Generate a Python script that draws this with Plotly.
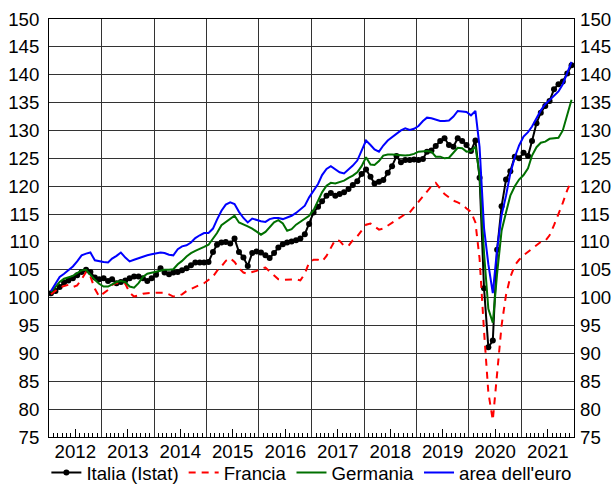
import plotly.graph_objects as go
import pandas as pd

# Monthly observations, Jan 2012 - Dec 2021 (plotted at mid-month)
months = pd.date_range("2012-01-01", periods=120, freq="MS") + pd.Timedelta(days=14)
years = list(range(2012, 2022))

italia = [
    100.8, 101.2, 101.9, 102.7, 103.1, 103.5, 104.0, 104.6, 105.0, 104.6, 103.6, 103.3,
    103.5, 103.0, 103.3, 102.6, 102.8, 103.1, 103.5, 103.8, 103.8, 103.5, 103.0, 103.5,
    104.1, 105.3, 104.5, 104.2, 104.5, 104.6, 104.9, 105.3, 105.8, 106.3, 106.3, 106.3,
    106.4, 108.2, 109.5, 109.9, 110.0, 109.7, 110.6, 108.2, 107.2, 105.7, 108.0, 108.3,
    108.1, 107.6, 107.1, 108.0, 109.0, 109.6, 109.9, 110.1, 110.3, 110.6, 111.4, 113.2,
    115.3, 116.3, 117.3, 118.3, 118.8, 118.3, 118.6, 118.9, 119.5, 120.2, 120.9, 122.2,
    123.0, 121.7, 120.5, 120.8, 121.1, 122.4, 123.6, 125.4, 124.3, 124.7, 124.7, 124.8,
    124.7, 124.9, 126.2, 126.4, 127.2, 128.1, 128.6, 127.4, 127.1, 128.6, 128.1, 127.4,
    126.3, 128.2, 121.5, 101.7, 91.1, 92.3, 108.6, 116.4, 121.2, 122.7, 125.3, 125.0,
    126.0, 125.4, 128.1, 131.3, 133.2, 134.4, 135.3, 137.4, 138.3, 138.8, 140.2, 141.7,
]

francia = [
    100.6, 101.2, 101.8, 102.1, 102.3, 101.9, 102.2, 103.3, 104.6, 103.8, 101.6, 100.2,
    100.8, 101.4, 102.3, 102.6, 102.6, 102.5, 100.9, 100.2, 100.4, 100.7, 100.8, 100.9,
    100.9, 100.9, 100.9, 100.6, 100.2, 100.3, 100.6, 101.2, 101.6, 102.0, 102.3, 102.6,
    103.2, 103.8, 104.8, 105.6, 106.6, 107.1, 106.4, 105.3, 104.5, 104.3, 104.6, 104.8,
    105.2, 105.4, 104.7, 103.9, 103.3, 103.2, 103.2, 103.3, 103.3, 103.1, 104.3, 106.3,
    106.8, 106.8, 106.5, 107.5, 109.0, 110.4, 110.2, 109.3, 109.3, 110.3, 111.0, 112.0,
    113.1, 113.3, 112.7, 112.2, 112.4, 112.9, 113.4, 114.0, 114.4, 115.0, 115.3, 116.2,
    117.2, 118.1, 119.0, 120.0, 120.6, 119.5, 118.6, 118.0, 117.4, 117.1, 116.7, 116.0,
    115.4, 113.5, 107.0, 94.0, 83.0, 78.0, 86.0, 95.0, 100.5, 103.7, 105.8, 106.8,
    107.6, 108.2, 108.8, 109.5, 110.0, 110.2, 111.2, 113.0, 115.0, 117.0, 119.3, 121.0,
]

germania = [
    101.0, 101.9, 102.8, 103.4, 103.6, 103.9, 104.4, 104.9, 105.0, 104.1, 103.2, 102.5,
    102.0, 102.0, 102.4, 102.8, 103.0, 102.8, 102.0, 101.8, 102.6, 103.7, 104.3, 104.5,
    104.7, 104.8, 105.0, 105.0, 105.1, 106.0, 106.6, 107.4, 108.0, 108.4, 108.7, 109.1,
    109.5, 110.5, 111.6, 113.0, 113.6, 114.2, 114.7, 113.5, 113.2, 112.8, 112.4, 111.9,
    111.3, 111.8, 112.6, 113.5, 113.9, 113.3, 112.0, 112.3, 113.1, 113.6, 114.2, 114.7,
    115.7, 117.3, 118.9, 120.1, 120.6, 120.5, 120.8, 121.0, 121.5, 121.9, 122.5, 123.6,
    125.2, 123.9, 123.8, 124.5, 125.5, 125.7, 125.7, 125.6, 125.5, 125.5, 125.6, 125.8,
    126.2, 126.3, 126.3, 126.2, 125.3, 125.3, 125.0, 125.1, 126.0, 126.9, 126.8, 126.2,
    126.3, 127.1, 122.0, 108.0, 98.0, 95.5, 104.3, 112.0, 115.3, 118.3, 120.0, 121.2,
    122.0, 123.2, 125.5, 127.0, 127.8, 128.0, 128.5, 128.6, 128.7, 130.0, 132.8, 135.5,
]

area_euro = [
    101.2, 102.6, 103.7, 104.3, 104.9, 105.6, 106.5, 107.6, 107.9, 108.1, 106.7, 106.5,
    106.4, 106.3, 107.0, 107.5, 108.1, 107.2, 106.5, 106.8, 107.1, 107.4, 107.6, 107.8,
    108.0, 108.1, 108.0, 107.7, 107.6, 108.7, 109.2, 109.4, 109.9, 110.7, 111.2, 111.6,
    111.6, 112.4, 114.0, 115.6, 116.7, 117.1, 116.8, 115.4, 114.3, 113.5, 114.2, 113.9,
    113.7, 113.6, 114.1, 114.3, 114.3, 114.1, 114.4, 114.7, 115.2, 115.8, 116.5, 118.0,
    119.3, 120.4, 122.0, 123.1, 123.6, 123.0, 122.5, 122.3, 123.0, 123.7, 124.6, 126.3,
    128.2, 127.4, 126.6, 126.2, 127.3, 128.2, 128.8, 129.5, 130.0, 130.4, 130.1, 130.3,
    130.8, 131.7, 132.3, 132.2, 132.0, 131.7, 131.7, 131.8, 132.5, 133.5, 133.4, 133.3,
    132.7, 133.5, 127.0, 112.5, 106.0, 100.8, 108.7, 114.8, 118.3, 122.3, 125.2, 127.3,
    128.9, 129.7, 130.7, 132.2, 133.6, 134.7, 135.4, 136.2, 137.0, 138.3, 140.2, 142.3,
]

y_ticks = list(range(75, 151, 5))
x_range = ["2012-01-01", "2022-01-01"]
mid_year = [f"{y}-07-01" for y in years]

FONT = "Arial, Liberation Sans, sans-serif"
fs = 18.67

fig = go.Figure()
fig.add_trace(go.Scatter(x=months, y=italia, name="Italia (Istat)", mode="lines+markers",
                         line=dict(color="black", width=2), marker=dict(size=6, color="black")))
fig.add_trace(go.Scatter(x=months, y=francia, name="Francia", mode="lines",
                         line=dict(color="#ff0000", width=2, dash="7px,6px")))
fig.add_trace(go.Scatter(x=months, y=germania, name="Germania", mode="lines",
                         line=dict(color="#007000", width=2)))
fig.add_trace(go.Scatter(x=months, y=area_euro, name="area dell'euro", mode="lines",
                         line=dict(color="#0000ff", width=2)))
# helper trace for the overlay axes (right labels, mid-year ticks)
fig.add_trace(go.Scatter(x=[], y=[], xaxis="x2", yaxis="y2", showlegend=False,
                         hoverinfo="skip"))

fig.update_layout(
    width=612, height=493,
    margin=dict(l=49, r=38, t=19, b=56, autoexpand=False),
    paper_bgcolor="white", plot_bgcolor="white",
    font=dict(family=FONT, size=fs, color="black"),
    showlegend=True,
    legend=dict(orientation="h", x=-0.005, xanchor="left", y=-0.086, yanchor="middle",
                font=dict(size=fs), bgcolor="rgba(0,0,0,0)", traceorder="normal"),
    xaxis=dict(type="date", range=x_range, dtick="M12", tick0="2012-01-01",
               ticklabelmode="period", tickformat="%Y", ticks="",
               showgrid=True, gridcolor="#333333", gridwidth=1,
               showline=True, linecolor="black", linewidth=1, mirror=True,
               zeroline=False, ticklabelstandoff=-2,
               minor=dict(dtick="M1", ticks="inside", ticklen=4, tickcolor="black",
                          tickwidth=1, showgrid=False)),
    xaxis2=dict(type="date", range=x_range, overlaying="x", anchor="y2", side="bottom",
                tickvals=mid_year, ticks="inside", ticklen=8, tickcolor="black",
                showticklabels=False, showgrid=False, showline=False, zeroline=False),
    yaxis=dict(range=[75, 150], tickvals=y_ticks, ticks="", showgrid=True,
               gridcolor="#333333", gridwidth=1, showline=True, linecolor="black",
               linewidth=1, mirror=True, zeroline=False, ticklabelstandoff=5),
    yaxis2=dict(range=[75, 150], tickvals=y_ticks, overlaying="y", side="right",
                anchor="x2", ticks="", showgrid=False, showline=False, zeroline=False,
                ticklabelstandoff=5),
)

fig.write_html("out.html", config={"displayModeBar": False},
               post_script="document.body.style.margin='0px';")
